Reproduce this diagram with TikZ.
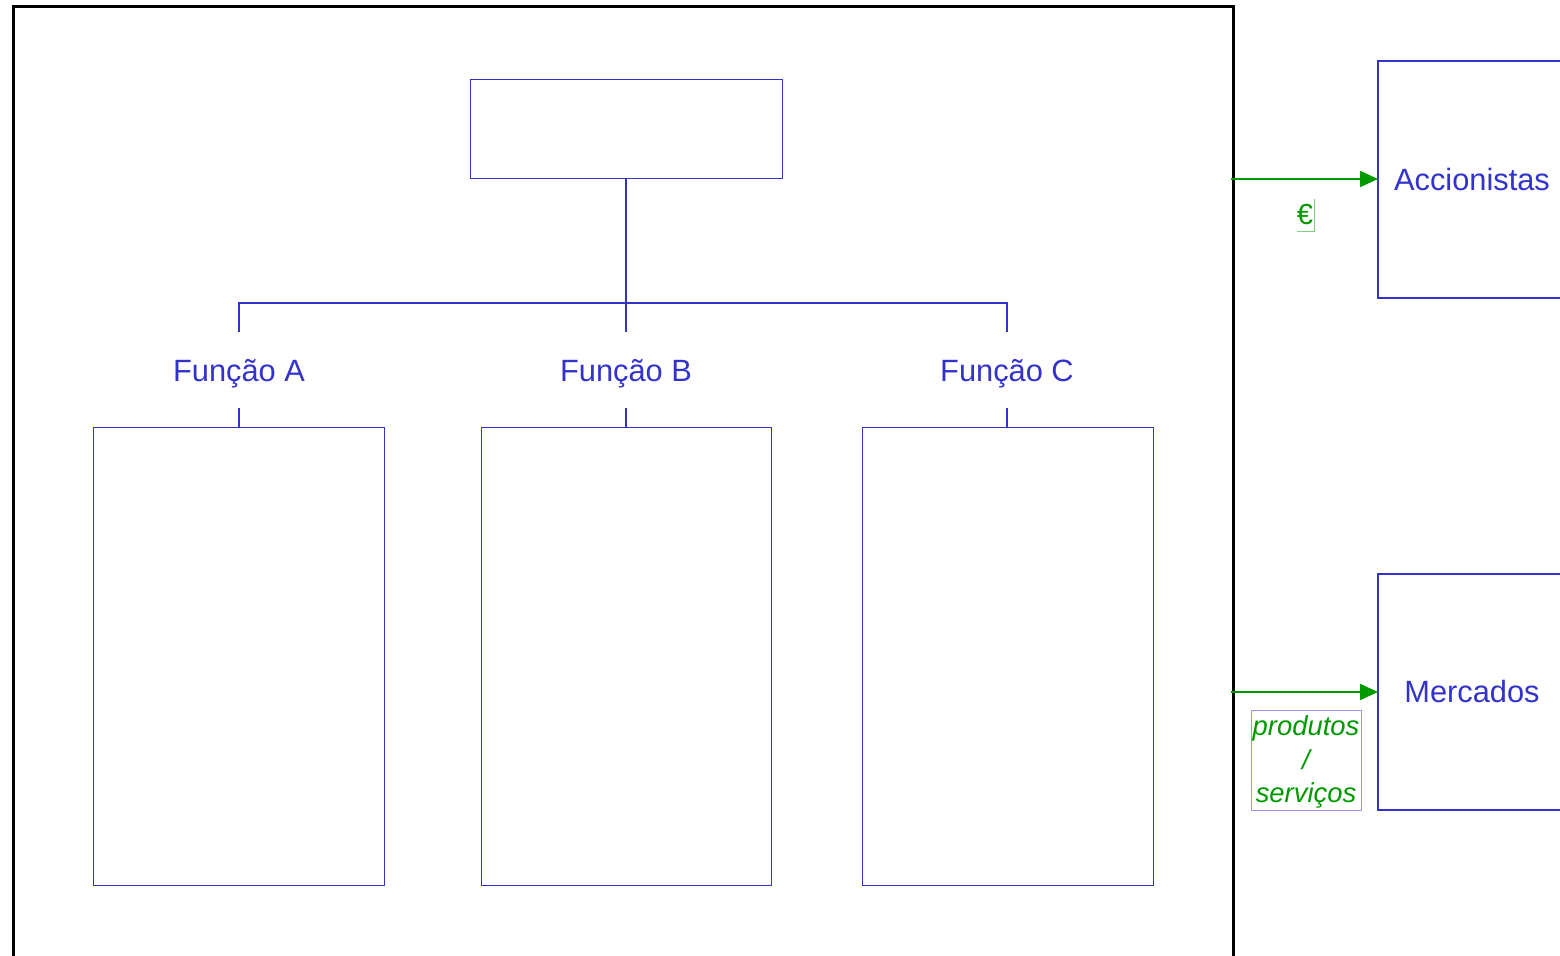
\documentclass[tikz,border=0pt]{standalone}
\usepackage{fontspec}
\setmainfont{Liberation Sans}
\usetikzlibrary{arrows.meta}
\definecolor{bl}{HTML}{3333CC}
\definecolor{gr}{HTML}{009900}
\begin{document}
\begin{tikzpicture}[x=0.5pt,y=-0.5pt,
  thinbox/.style={draw=bl,line width=0.5pt},
  thickbox/.style={draw=bl,line width=1pt},
  conn/.style={draw=bl,line width=1.25pt},
  flow/.style={draw=gr,line width=1pt,-{Triangle[length=9pt,width=8pt]}},
  lbl/.style={text=bl,font=\fontsize{15.4}{18}\selectfont,inner sep=0pt},
  glbl/.style={text=gr,font=\fontsize{13.7}{16.8}\selectfont\itshape,inner sep=0pt}]
\useasboundingbox (0,0) rectangle (1560,956);
\clip (0,0) rectangle (1560,956);
% outer frame
\draw[line width=1.5pt] (13,970) -- (13,7) -- (1233,7) -- (1233,970);
% top box
\node[thinbox,minimum width=156pt,minimum height=49.5pt,inner sep=0pt] (top) at (626,129.5) {};
% function labels
\node[lbl,anchor=base] (fa) at (239,382) {Função A};
\node[lbl,anchor=base] (fb) at (626,382) {Função B};
\node[lbl,anchor=base] (fc) at (1007,382) {Função C};
% boxes
\node[thinbox,minimum width=145.5pt,minimum height=229pt,inner sep=0pt] (ba) at (238.5,657) {};
\node[thinbox,minimum width=145pt,minimum height=229pt,inner sep=0pt] (bb) at (626,657) {};
\node[thinbox,minimum width=145.5pt,minimum height=229pt,inner sep=0pt] (bc) at (1007.5,657) {};
% tree connectors
\draw[conn] (top.south) -- (626,332);
\draw[conn] (239,332) -- (239,303) -- (1007,303) -- (1007,332);
\draw[conn] (239,408) -- (ba.north -| 239,0);
\draw[conn] (626,408) -- (bb.north);
\draw[conn] (1007,408) -- (bc.north -| 1007,0);
% right boxes
\draw[thickbox] (1580,61) -- (1378,61) -- (1378,298) -- (1580,298);
\coordinate (acc) at (1378,180);
\node[lbl,anchor=base] (acct) at (1472,191) {Accionistas};
\draw[thickbox] (1580,574) -- (1378,574) -- (1378,810) -- (1580,810);
\coordinate (mer) at (1378,692);
\node[lbl,anchor=base] (mert) at (1472,703) {Mercados};
% flows
\coordinate (s1) at (1231,179);
\coordinate (s2) at (1231,692);
\draw[flow] (s1) -- (acc |- s1);
\draw[flow] (s2) -- (mer |- s2);
% euro label
\node[text=gr,inner sep=0pt,font=\fontsize{14.5}{17}\selectfont] (eur) at (1305,215) {€};
\draw[gr!50,line width=0.3pt] (1314,199) -- (1314,231) -- (1297,231);
% produtos/servicos
\node[draw=bl!50,line width=0.3pt,minimum width=55pt,minimum height=50pt,inner sep=0pt] (pbox) at (1306,760) {};
\node[glbl,align=center] (ps) at (1306,762) {produtos\\/\\serviços};
\end{tikzpicture}
\end{document}
